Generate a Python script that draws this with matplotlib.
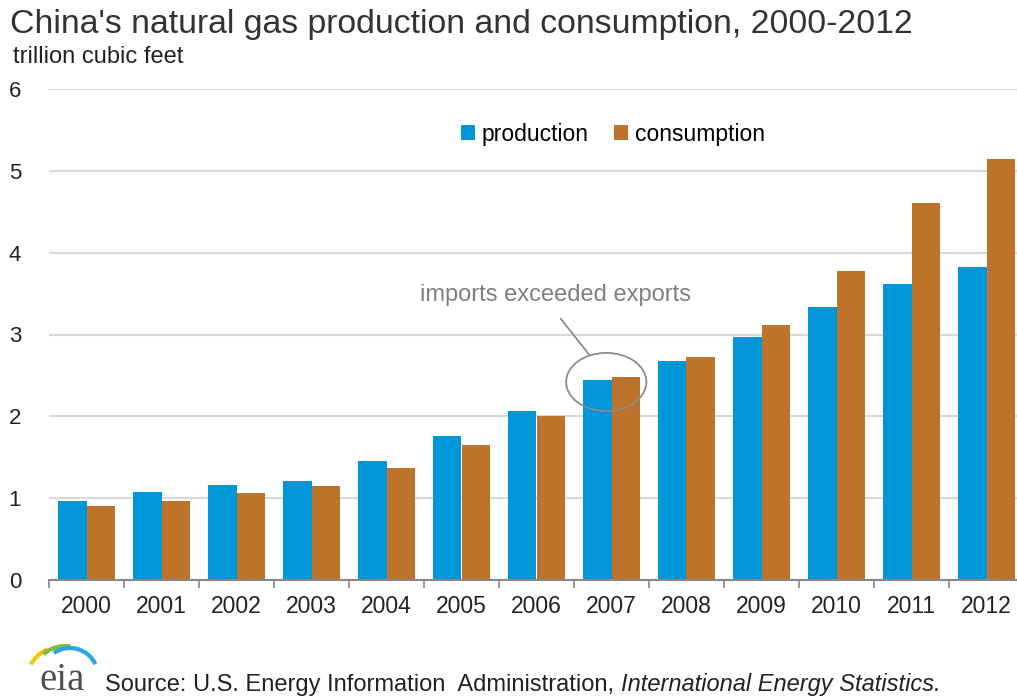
import matplotlib
matplotlib.use("Agg")
import matplotlib.pyplot as plt
from matplotlib.patches import Ellipse, Arc
import numpy as np

years = ["2000", "2001", "2002", "2003", "2004", "2005", "2006",
         "2007", "2008", "2009", "2010", "2011", "2012"]
production = [0.97, 1.08, 1.16, 1.21, 1.45, 1.76, 2.07, 2.44, 2.68, 2.97, 3.33, 3.62, 3.82]
consumption = [0.90, 0.97, 1.06, 1.15, 1.37, 1.65, 2.00, 2.48, 2.72, 3.11, 3.77, 4.61, 5.15]
yticks = [0, 1, 2, 3, 4, 5, 6]

BLUE = "#0096D7"
ORANGE = "#BD732A"
GRID = "#D9D9D9"
AXIS = "#888888"
TXT = "#222222"

plt.rcParams["font.family"] = ["Liberation Sans", "DejaVu Sans"]

fig = plt.figure(figsize=(10.17, 7.0), dpi=100)
ax = fig.add_axes([49 / 1017, 120 / 700, 975 / 1017, 491 / 700])

x = np.arange(len(years))
w = 0.38
ax.bar(x - w / 2, production, width=w, color=BLUE, label="production", zorder=3)
ax.bar(x + w / 2, consumption, width=w, color=ORANGE, label="consumption", zorder=3)

ax.set_xlim(-0.5, len(years) - 0.5)
ax.set_ylim(0, 6)
ax.set_yticks(yticks)
ax.set_yticklabels([str(v) for v in yticks], fontsize=16, color=TXT)
ax.tick_params(axis="y", length=0, pad=20)
ax.set_xticks(x)
ax.set_xticklabels(years, fontsize=16.5, color=TXT)
ax.tick_params(axis="x", which="major", length=0, pad=11)
ax.set_xticks(np.arange(len(years) + 1) - 0.5, minor=True)
ax.tick_params(axis="x", which="minor", length=6, width=1.2, color=AXIS)
ax.yaxis.grid(True, color=GRID, linewidth=1.5, zorder=0)
for s in ["top", "right", "left"]:
    ax.spines[s].set_visible(False)
ax.spines["bottom"].set_color(AXIS)
ax.spines["bottom"].set_linewidth(1.5)
ax.spines["bottom"].set_zorder(4)

# legend
ax.legend(loc="center", bbox_to_anchor=(613 / 1017, 1 - 134 / 700),
          bbox_transform=fig.transFigure, ncol=2, frameon=False,
          fontsize=16.5, handlelength=0.6, handleheight=0.6,
          handletextpad=0.3, columnspacing=1.1)

# annotation around 2007
i07 = years.index("2007")
ymid = (production[i07] + consumption[i07]) / 2
ell = Ellipse((i07 - 0.07, ymid - 0.04), width=1.07, height=0.71,
              fill=False, edgecolor="#8C8C8C", linewidth=1.3, zorder=5)
ax.add_patch(ell)
ax.annotate("", xy=(i07 - 0.27, ymid + 0.26), xytext=(i07 - 0.7, ymid + 0.76),
            arrowprops=dict(arrowstyle="-", color="#8C8C8C", linewidth=1.3))
ax.text(i07 - 0.74, ymid + 1.02, "imports exceeded exports", fontsize=17,
        color="#7F7F7F", ha="center", va="center")

# titles
fig.text(10 / 1017, 1 - 24 / 700, "China's natural gas production and consumption, 2000-2012",
         fontsize=24.3, color="#333333", ha="left", va="center")
fig.text(13 / 1017, 1 - 57 / 700, "trillion cubic feet", fontsize=17,
         color=TXT, ha="left", va="center")

# eia logo (axes in pixel units)
lax = fig.add_axes([10 / 1017, 0, 100 / 1017, 60 / 700])
lax.set_xlim(0, 100)
lax.set_ylim(0, 60)
lax.axis("off")
lax.text(52, 1.5, "eia", fontsize=28, family=["Liberation Serif", "DejaVu Serif"],
         color="#505050", ha="center", va="bottom")
lax.add_patch(Arc((50, 20), 66, 66, theta1=112, theta2=152, color="#F2C500", lw=3))
lax.add_patch(Arc((55, 22), 64, 64, theta1=80, theta2=132, color="#7DBB42", lw=3))
lax.add_patch(Arc((60, 24), 56, 56, theta1=25, theta2=125, color="#2AA7DF", lw=3))

t = fig.text(105 / 1017, 1 - 685 / 700, "Source: U.S. Energy Information  Administration, ",
             fontsize=17, color=TXT, ha="left", va="center")
fig.canvas.draw()
bb = t.get_window_extent()
fig.text(bb.x1 / 1017, 1 - 685 / 700, "International Energy Statistics.",
         fontsize=17, color=TXT, ha="left", va="center", style="italic")

fig.savefig("out.png", dpi=100)
